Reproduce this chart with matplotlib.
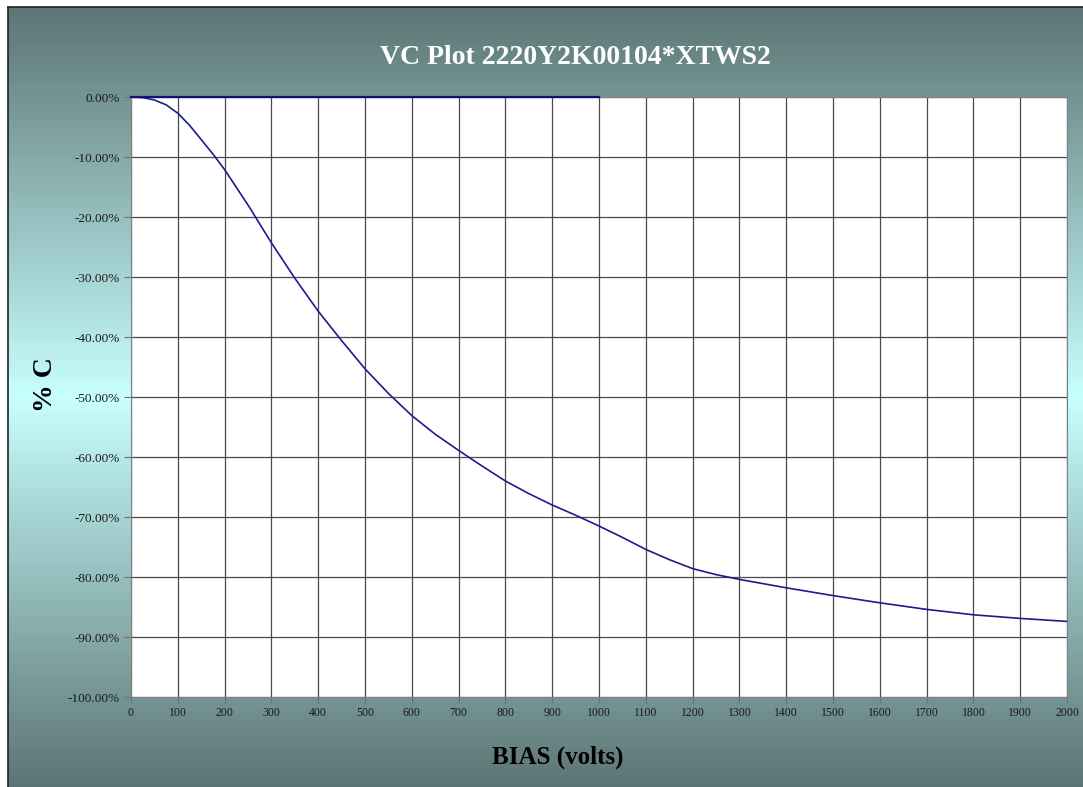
import numpy as np
import matplotlib
matplotlib.use("Agg")
import matplotlib.pyplot as plt
from matplotlib.ticker import MultipleLocator, PercentFormatter
from matplotlib.colors import LinearSegmentedColormap

plt.rcParams['font.family'] = ['Liberation Serif', 'DejaVu Serif']
plt.rcParams['axes.unicode_minus'] = False

# Capacitance change versus DC bias
bias = [0, 25, 50, 75, 100, 125, 150, 175, 200, 250, 300, 350, 400, 450, 500,
        550, 600, 650, 700, 750, 800, 850, 900, 950, 1000, 1050, 1100, 1150,
        1200, 1250, 1300, 1400, 1500, 1600, 1700, 1800, 1900, 2000]
pct_c = [0.0, -0.1, -0.5, -1.3, -2.7, -4.7, -7.1, -9.5, -12.1, -18.0, -24.3,
         -30.2, -35.7, -40.6, -45.3, -49.4, -53.1, -56.2, -58.9, -61.5, -64.0,
         -66.1, -68.0, -69.7, -71.5, -73.4, -75.4, -77.1, -78.6, -79.6, -80.4,
         -81.8, -83.1, -84.3, -85.4, -86.3, -86.9, -87.4]

# reference line at 0 % up to 1000 V
ref_bias = [0, 1000]
ref_pct = [0.0, 0.0]

W, H = 1083, 787
fig = plt.figure(figsize=(W / 100, H / 100), dpi=100, facecolor='white')

# gradient backdrop: dark at top and bottom, light cyan in the middle
bg = fig.add_axes([8 / W, 0, 1 - 8 / W, (H - 7) / H], zorder=0)
cmap = LinearSegmentedColormap.from_list('bg', ['#5c7574', '#c8ffff', '#5c7574'])
grad = np.linspace(0, 1, 256).reshape(-1, 1)
bg.imshow(grad, cmap=cmap, aspect='auto', extent=[0, 1, 0, 1], origin='upper')
bg.set_xticks([])
bg.set_yticks([])
for side in ('right', 'bottom'):
    bg.spines[side].set_visible(False)
for side in ('left', 'top'):
    bg.spines[side].set_color('#222222')
    bg.spines[side].set_linewidth(1.2)

ax = fig.add_axes([131 / W, 90 / H, 936 / W, 600 / H], zorder=1)
ax.set_facecolor('white')
ax.plot(bias, pct_c, color='#1c1c8e', lw=1.2, zorder=3)
ax.plot(ref_bias, ref_pct, color='#10107a', lw=1.6, zorder=4, clip_on=False)

ax.set_xlim(0, 2000)
ax.set_ylim(-100, 0)
ax.xaxis.set_major_locator(MultipleLocator(100))
ax.yaxis.set_major_locator(MultipleLocator(10))
ax.yaxis.set_major_formatter(PercentFormatter(xmax=100, decimals=2))
ax.grid(True, color='#4a4a4a', lw=0.9)
ax.set_axisbelow(True)
for side in ax.spines.values():
    side.set_color('#808080')
ax.tick_params(axis='y', direction='out', length=5, color='#707070',
               labelsize=9.5, labelcolor='#1a1a1a', pad=3)
ax.tick_params(axis='x', direction='out', length=4, color='#707070',
               labelsize=8.5, labelcolor='#1a1a1a', pad=3)

fig.text(575 / W, 1 - 57 / H, 'VC Plot 2220Y2K00104*XTWS2', color='white',
         fontsize=20, fontweight='bold', ha='center', va='center')
fig.text(45 / W, 1 - 385 / H, '% C', color='black', fontsize=20,
         fontweight='bold', rotation=90, ha='center', va='center')
fig.text(558 / W, 1 - 757 / H, 'BIAS (volts)', color='black', fontsize=18,
         fontweight='bold', ha='center', va='center')

fig.savefig('out.png', dpi=100, facecolor='white')
